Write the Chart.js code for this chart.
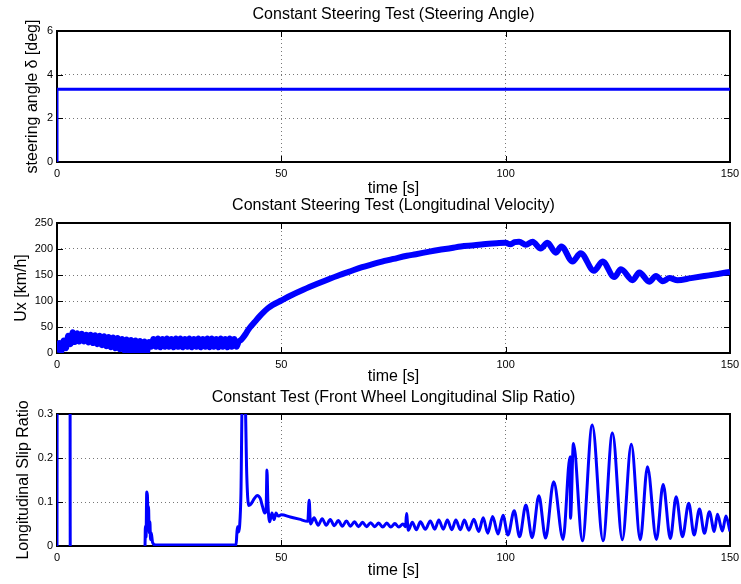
<!DOCTYPE html>
<html lang="en">
<head>
<meta charset="UTF-8">
<title>Constant Steering Test</title>
<script src="https://cdn.jsdelivr.net/npm/chart.js"></script>
<style>
  body { margin: 0; background: #fff; }
  canvas { position: absolute; left: 0; }
</style>
</head>
<body>
<canvas id="c1" width="741" height="200" style="top:0px"></canvas>
<canvas id="c2" width="741" height="200" style="top:192px"></canvas>
<canvas id="c3" width="741" height="200" style="top:384px"></canvas>
<script>
// shared x axis
const timeTicks = [0, 50, 100, 150];

// panel 1: steering angle
const angleTime = [0, 0, 150];
const angleDeg = [0, 3.33, 3.33];
const angleTicks = [0, 2, 4, 6];

// panel 2: longitudinal velocity (noisy band up to ~40 s)
const uxTime = [0,0.5,1,1.5,2,2.5,3,3.5,4,4.5,5,5.5,6,6.5,7,7.5,8,8.5,9,9.5,10,10.5,11,11.5,12,12.5,13,13.5,14,14.5,15,15.5,16,16.5,17,17.5,18,18.5,19,19.5,20,20.5,
  21,21.5,22,22.5,23,23.5,24,24.5,25,25.5,26,26.5,27,27.5,28,28.5,29,29.5,30,30.5,31,31.5,32,32.5,33,33.5,34,34.5,35,35.5,36,36.5,37,37.5,38,38.5,39,39.5,40,40.5,
  41,41.5,42,42.5,43,44,45,46,47,48,50,52,55,58,60,63,65,68,70,73,75,78,80,83,85,88,90,93,95,98,100,101,102,103,104.5,106,107.8,109.3,111.2,112.4,
  114.9,116.7,119.7,121.6,124.2,125.7,128.3,129.8,132,133.5,135,136.5,138.3,141.3,144.3,147.3,150];
const uxKmh = [1,19,4,24,9,33,17,40,21,38,22,37,22,35,20,35,19,34,17,33,15,32,13,31,11,30,9,29,7,27,5,26,3,25,2,24,1,23,0,22,1,21,
  12,27,12,28,11,27,12,28,12,27,11,28,12,28,11,27,12,28,11,27,12,28,11,27,12,28,11,28,12,27,11,28,12,27,11,28,12,27,12,22,
  25,30,36,43,49,59,69,78,86,92,101,110,122,133,140,150,156,165,170,177,181,187,190,195,198,202,205,207,209,211,212,209,213,214,208,214,201,212,193,205,
  176,192,158,176,146,161,140,155,137,148,138,144,140,144,148,152,156];
const uxTicks = [0, 50, 100, 150, 200, 250];

// panel 3: front wheel longitudinal slip ratio
const slipTime = [0,0.05,2.9,2.95,19.6,19.7,19.85,20,20.15,20.3,20.4,20.55,20.7,20.85,21,21.3,22,39.9,40.1,40.25,40.45,40.7,41,41.3,41.9,42.3,42.7,
  43.2,44,44.6,45.3,45.8,46.3,46.6,46.8,47,47.4,47.9,48.4,48.8,49.3,50,52,54,55.9,56.2,56.5,57.3,58.2,59.1,60,60.9,61.8,62.7,63.6,64.5,65.4,66.3,67.2,
  68.1,69,69.9,70.8,71.7,72.6,73.5,74.4,75.3,76.2,77.1,77.7,77.9,78.3,79.2,80.1,81,82.1,83.2,84.2,85.1,86.1,87,88,88.9,89.9,90.8,91.8,92.9,94,95,96,
  97.1,98.3,99.4,100.5,101.9,103.1,104.5,105.9,107.4,108.9,110.7,112.8,114.35,114.45,115.1,117.1,119.3,121.7,123.8,126,128,130,131.6,133.6,135.1,
  136.7,138,139.4,140.8,142,143.2,144.3,145.4,146.5,147.2,148.3,149.1,150];
const slipRatio = [0,0.5,0.5,-0.005,-0.005,0.045,0.02,0.123,0.115,0.06,0.09,0.03,0.055,0.015,0.03,0.008,0.002,0.002,0.03,0.044,0.032,0.045,0.12,0.34,0.34,0.16,0.092,
  0.095,0.108,0.115,0.108,0.09,0.075,0.08,0.173,0.1,0.055,0.075,0.06,0.075,0.068,0.071,0.066,0.061,0.056,0.104,0.05,0.064,0.047,0.062,0.047,0.06,0.046,0.058,0.045,0.057,0.045,0.055,0.044,
  0.054,0.044,0.053,0.044,0.052,0.043,0.052,0.043,0.051,0.043,0.05,0.044,0.074,0.036,0.054,0.037,0.055,0.038,0.057,0.038,0.059,0.038,0.059,0.037,0.059,0.037,0.059,0.036,0.061,0.033,0.064,0.029,
  0.067,0.027,0.07,0.025,0.08,0.021,0.093,0.019,0.114,0.018,0.146,0.015,0.203,0.063,0.233,0.012,0.275,0.012,0.257,0.014,0.231,0.014,0.18,0.015,0.14,
  0.017,0.112,0.021,0.097,0.025,0.084,0.029,0.078,0.033,0.072,0.034,0.068,0.033];
const slipTicks = [0, 0.1, 0.2, 0.3];

Chart.defaults.font.family = "'Liberation Sans', Arial, sans-serif";

const pts = (xs, ys) => xs.map((x, i) => ({x: x, y: ys[i]}));

// matlab style box with inward tick marks
const frame = {
  id: 'frame',
  beforeDatasetsDraw(chart) {
    const {ctx, chartArea: a, scales} = chart;
    ctx.save();
    ctx.strokeStyle = '#000';
    ctx.lineWidth = 1;
    ctx.beginPath();
    scales.x.ticks.forEach(t => {
      const px = Math.round(scales.x.getPixelForValue(t.value)) + 0.5;
      ctx.moveTo(px, a.bottom); ctx.lineTo(px, a.bottom - 6);
      ctx.moveTo(px, a.top); ctx.lineTo(px, a.top + 6);
    });
    scales.y.ticks.forEach(t => {
      const py = Math.round(scales.y.getPixelForValue(t.value)) + 0.5;
      ctx.moveTo(a.left, py); ctx.lineTo(a.left + 6, py);
      ctx.moveTo(a.right, py); ctx.lineTo(a.right - 6, py);
    });
    ctx.stroke();
    ctx.lineWidth = 2;
    ctx.strokeRect(a.left, a.top, a.right - a.left, a.bottom - a.top);
    ctx.restore();
  }
};

function panel(id, o) {
  return new Chart(document.getElementById(id), {
    type: 'line',
    data: {
      datasets: [{
        data: pts(o.xs, o.ys),
        borderColor: '#0000ff',
        borderWidth: o.lw,
        pointRadius: 0,
        fill: false,
        tension: 0,
        cubicInterpolationMode: o.mono ? 'monotone' : 'default',
        clip: o.clip
      }]
    },
    options: {
      responsive: false,
      animation: false,
      layout: {autoPadding: false, padding: {left: o.padLeft, right: 11, top: 0, bottom: o.padBottom}},
      plugins: {
        legend: {display: false},
        tooltip: {enabled: false},
        title: {display: true, text: o.title, fullSize: false, color: '#000', font: {size: 16, weight: 'normal'}, padding: {top: o.tp, bottom: o.tb}}
      },
      scales: {
        x: {
          type: 'linear', min: 0, max: 150,
          afterBuildTicks: s => { s.ticks = timeTicks.map(v => ({value: v})); },
          afterFit: s => { s.height = o.xh; s.paddingLeft = 0; s.paddingRight = 0; },
          ticks: {font: {size: 11}, color: '#000', padding: 5, maxRotation: 0, callback: v => String(v)},
          grid: {color: '#777', drawTicks: false},
          border: {display: false, dash: [1, 3]},
          title: {display: true, text: 'time [s]', color: '#000', font: {size: 16}, padding: 0}
        },
        y: {
          min: o.ticks[0], max: o.ticks[o.ticks.length - 1],
          afterBuildTicks: s => { s.ticks = o.ticks.map(v => ({value: v})); },
          afterFit: s => { s.width = 57 - o.padLeft; s.paddingTop = 0; s.paddingBottom = 0; },
          ticks: {font: {size: 11}, color: '#000', padding: 4, callback: v => String(v)},
          grid: {color: '#777', drawTicks: false},
          border: {display: false, dash: [1, 3]},
          title: {display: true, text: o.ylabel, color: '#000', font: {size: 16}, padding: 0}
        }
      }
    },
    plugins: [frame]
  });
}

panel('c1', {xs: angleTime, ys: angleDeg, ticks: angleTicks, lw: 3, mono: false, clip: undefined,
  title: 'Constant Steering Test (Steering Angle)', ylabel: 'steering angle \u03b4 [deg]',
  padLeft: 23, padBottom: 1.4, tp: 4.9, tb: 6.9, xh: 36.6});
panel('c2', {xs: uxTime, ys: uxKmh, ticks: uxTicks, lw: 6, mono: true, clip: 0,
  title: 'Constant Steering Test (Longitudinal Velocity)', ylabel: 'Ux [km/h]',
  padLeft: 12, padBottom: 5.9, tp: 3.9, tb: 7.9, xh: 33.1});
panel('c3', {xs: slipTime, ys: slipRatio, ticks: slipTicks, lw: 3, mono: true, clip: 0,
  title: 'Constant Test (Front Wheel Longitudinal Slip Ratio)', ylabel: 'Longitudinal Slip Ratio',
  padLeft: 14, padBottom: 3.4, tp: 4.1, tb: 6.7, xh: 34.6});
</script>
</body>
</html>
